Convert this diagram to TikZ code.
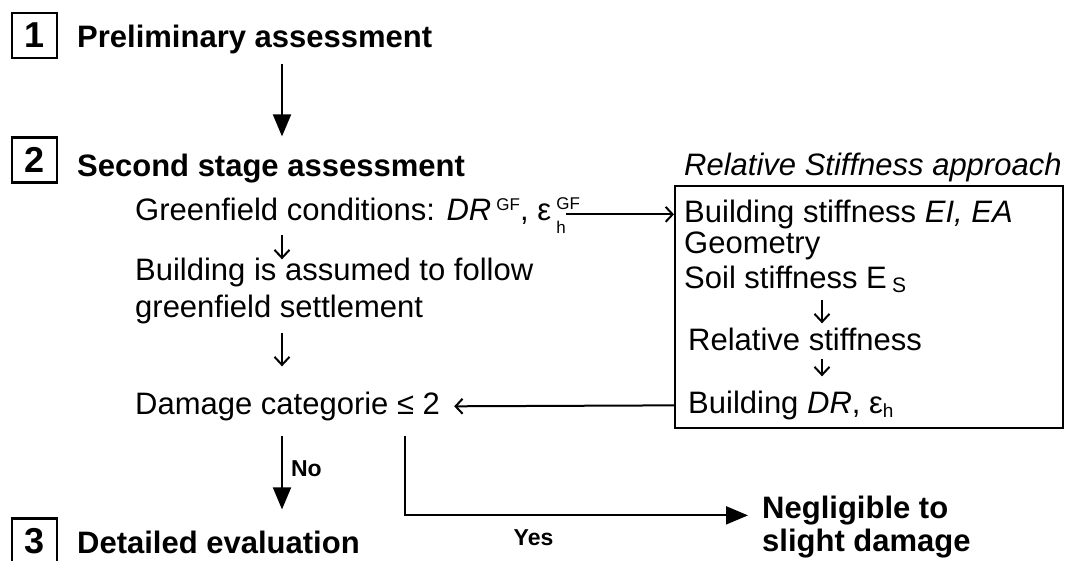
\documentclass[tikz,border=0pt]{standalone}
\usepackage{fontspec}
\setmainfont{Liberation Sans}
\usetikzlibrary{arrows.meta}

\begin{document}
\begin{tikzpicture}[x=1pt,y=-1pt,
  numbox/.style={draw,line width=2.2pt,minimum size=45pt,inner sep=0pt,font=\bfseries\fontsize{36}{36}\selectfont},
  head/.style={anchor=base west,inner sep=0pt,font=\bfseries\fontsize{31}{36}\selectfont},
  txt/.style={anchor=base west,inner sep=0pt,font=\fontsize{31}{36}\selectfont},
  lbl/.style={inner sep=0pt,font=\bfseries\fontsize{23}{24}\selectfont},
  bigarr/.style={line width=2pt,-{Triangle[length=22pt,width=18pt]}},
  openarr/.style={line width=2pt,-{Straight Barb[length=7pt,width=15pt]}},
  smallarr/.style={line width=2pt,-{Straight Barb[length=8pt,width=15pt]}}]
  \useasboundingbox (0,0) rectangle (1065,560);
  % stage headings
  \node[numbox] (n1) at (34.5,35.5) {1};
  \node[head] (prelim) at (77,47) {Preliminary assessment};
  \node[numbox] (n2) at (34.5,160) {2};
  \node[head] (second) at (77,176) {Second stage assessment};
  \node[numbox] (n3) at (34.5,541) {3};
  \node[head] (detail) at (77,553) {Detailed evaluation};
  % left column
  \node[txt] (green) at (135,220) {Greenfield conditions: \textit{DR}\,\raisebox{10pt}{\fontsize{17}{17}\selectfont GF},
    ε\,\rlap{\raisebox{11pt}{\fontsize{17}{17}\selectfont GF}}\raisebox{-13pt}{\fontsize{17}{17}\selectfont h}\hspace{20pt}};
  \node[txt] (follow1) at (135,280) {Building is assumed to follow};
  \node[txt] (follow2) at (135,317) {greenfield settlement};
  \node[txt] (damage) at (135,414) {Damage categorie ≤ 2};
  % relative stiffness box
  \node[txt,font=\itshape\fontsize{31}{36}\selectfont] (rstitle) at (684,175) {Relative Stiffness approach};
  \node[draw,line width=2pt,minimum width=388pt,minimum height=242pt,inner sep=0pt] (rsbox) at (869,307) {};
  \node[txt] (bstiff) at (684,222) {Building stiffness \textit{EI, EA}};
  \node[txt] (geom) at (684,253) {Geometry};
  \node[txt] (soil) at (684,288) {Soil stiffness E\,\raisebox{-4pt}{\fontsize{21}{21}\selectfont S}};
  \node[txt] (relst) at (688,350) {Relative stiffness};
  \node[txt] (bdr) at (688,413) {Building \textit{DR}, ε\raisebox{-4pt}{\fontsize{19}{19}\selectfont h}};
  % outcome
  \node[head] (neg1) at (762,518) {Negligible to};
  \node[head] (neg2) at (762,551) {slight damage};
  \coordinate (colA) at (282,0);
  \coordinate (colB) at (405,0);
  \coordinate (colC) at (822,0);
  % connectors
  \draw[bigarr] ([yshift=-10pt]prelim.south -| colA) -- (n2.north -| colA);
  \draw[openarr] ([yshift=3pt]green.mid east) -- ([yshift=3pt]rsbox.west |- green.mid east);
  \draw[smallarr,shorten <=2pt,shorten >=-2pt] (green.south -| colA) -- (follow1.north -| colA);
  \draw[smallarr,shorten <=9pt,shorten >=25pt] (follow2.south -| colA) -- (damage.north -| colA);
  \draw[smallarr,shorten <=8pt,shorten >=4pt] (soil.south -| colC) -- (relst.north -| colC);
  \draw[smallarr,shorten <=8pt,shorten >=14pt] (relst.south -| colC) -- (bdr.north -| colC);
  \draw[openarr,shorten >=14pt] ([yshift=5pt]rsbox.west |- bdr.mid) -- ([yshift=5pt]damage.mid east);
  \draw[bigarr,shorten <=15pt,shorten >=8pt] (damage.south -| colA) -- node[lbl,anchor=west,xshift=8pt] (no) {No} (n3.north -| colA);
  \draw[bigarr,shorten <=15pt,shorten >=14pt] (damage.south -| colB) |- node[lbl,pos=0.68,below=13pt] (yes) {Yes} (neg1.mid west);
\end{tikzpicture}
\end{document}
